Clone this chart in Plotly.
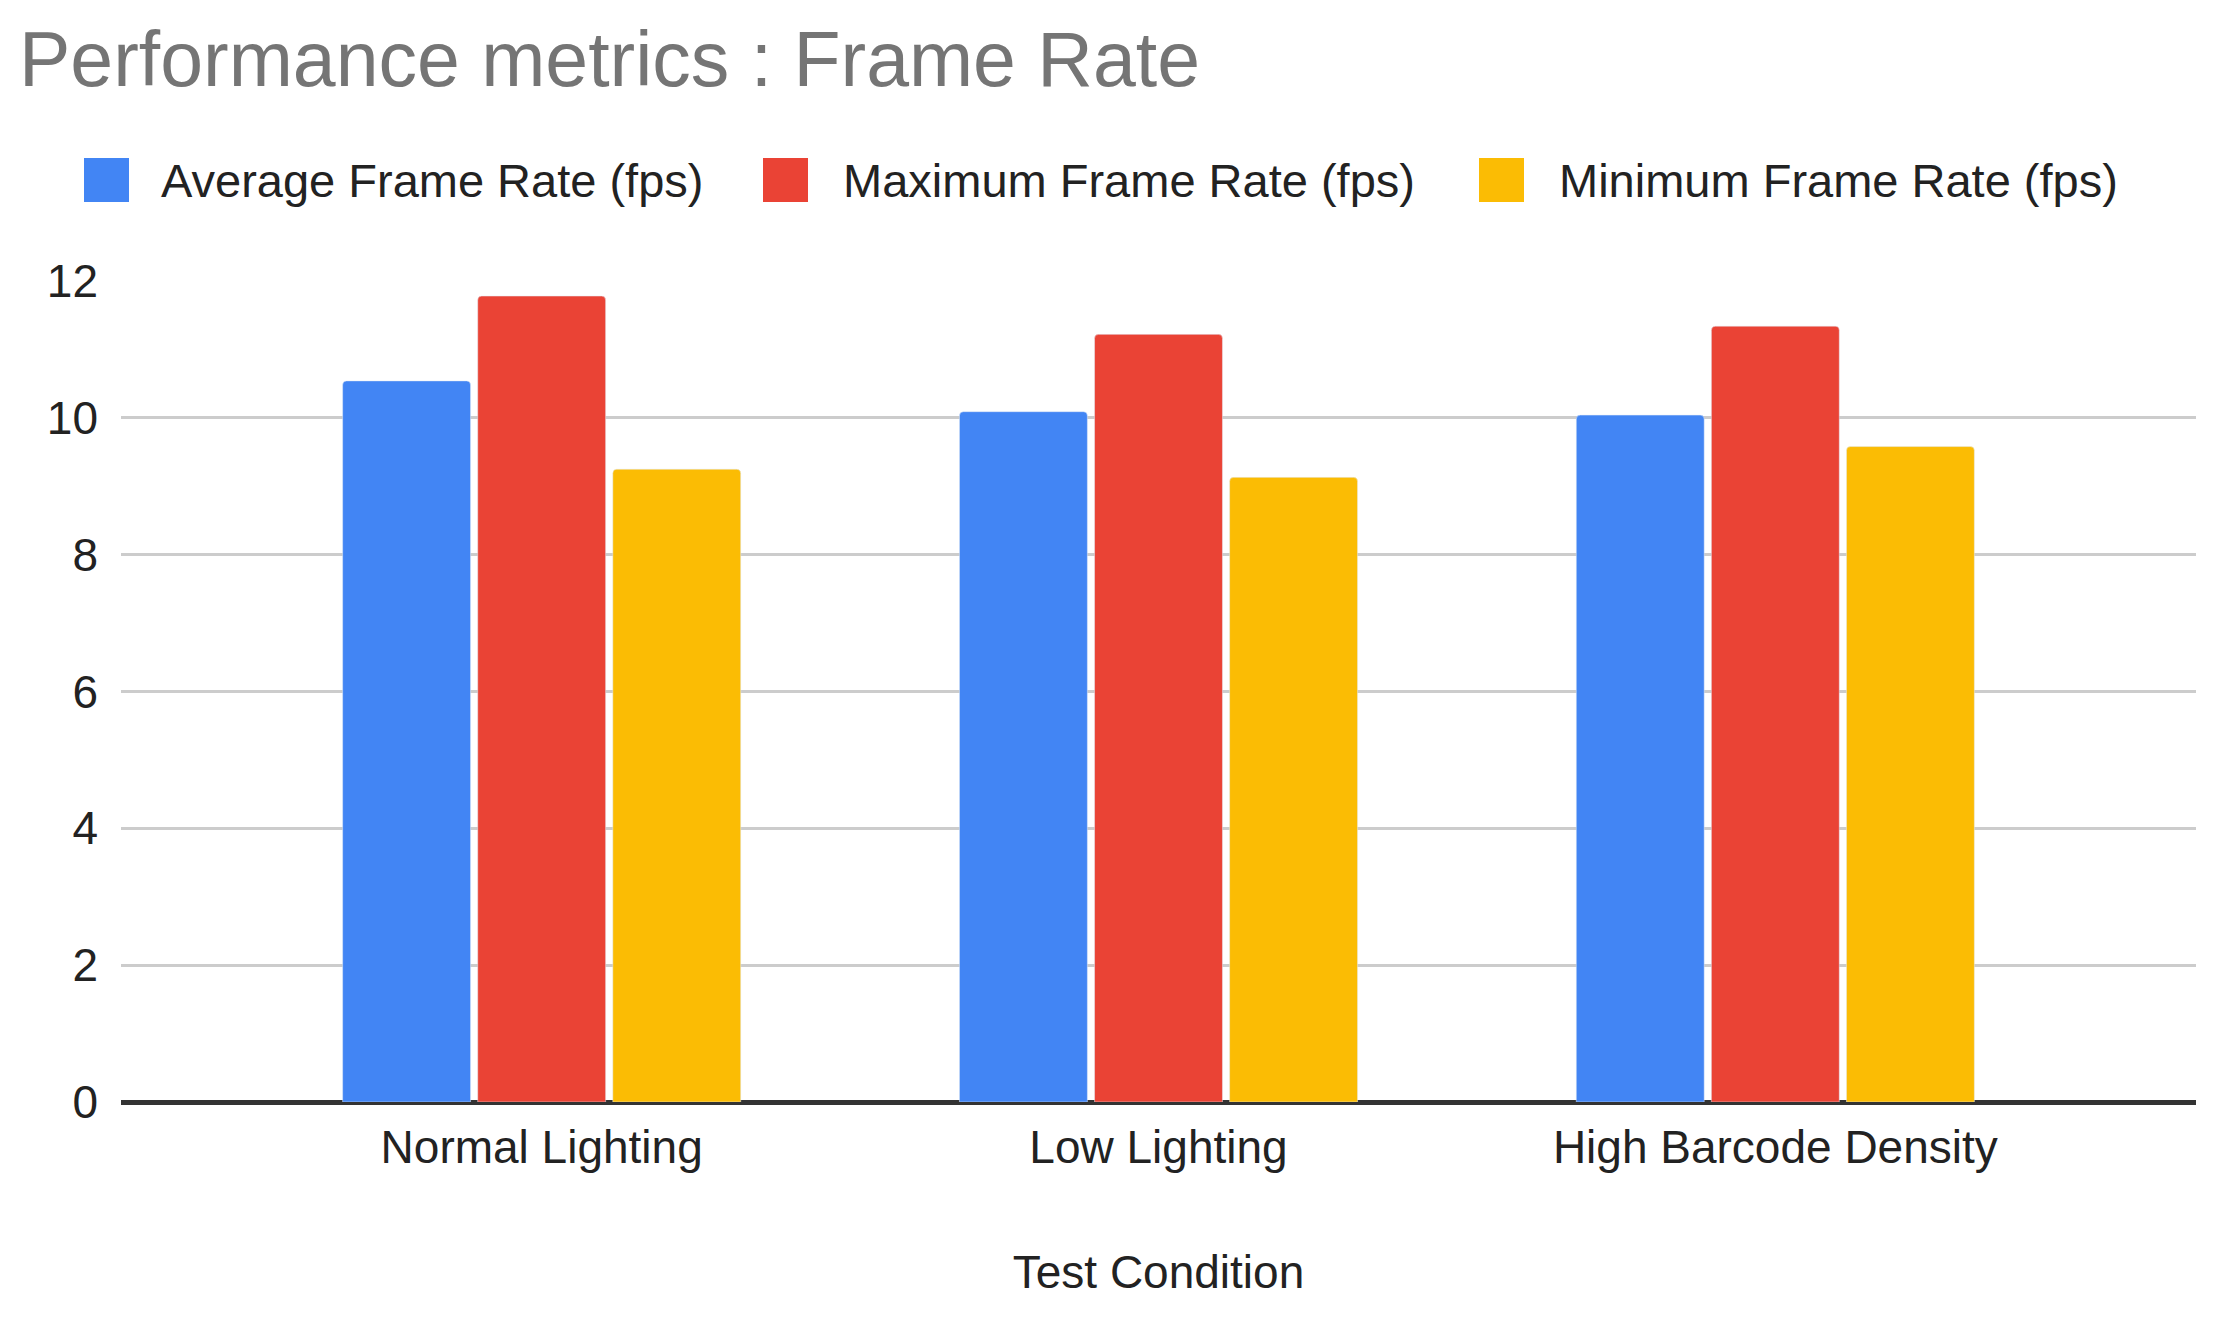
import plotly.graph_objects as go

categories = ["Normal Lighting", "Low Lighting", "High Barcode Density"]
series_names = ["Average Frame Rate (fps)", "Maximum Frame Rate (fps)", "Minimum Frame Rate (fps)"]
avg_fps = [10.54, 10.09, 10.04]
max_fps = [11.78, 11.22, 11.34]
min_fps = [9.25, 9.13, 9.58]
y_ticks = [0, 2, 4, 6, 8, 10, 12]

colors = ["#4285F4", "#EA4335", "#FBBC04"]
W, H = 2227, 1317
OFF = 10  # page body offset compensation
FONT = "Liberation Sans, Arial, sans-serif"

L, R, T, B = 123 - OFF, 2198 - OFF, 283 - OFF, 1104 - OFF

fig = go.Figure()
for name, vals, col in zip(series_names, [avg_fps, max_fps, min_fps], colors):
    fig.add_trace(go.Bar(x=categories, y=vals, name=name, marker_color=col,
                         showlegend=False))

# custom legend (large swatches)
legend_sq_x = [86 - OFF, 765 - OFF, 1481 - OFF]
legend_txt_x = [161 - OFF, 843 - OFF, 1559 - OFF]
leg_y_top, leg_y_bot = 160 - OFF, 204 - OFF
shapes = []
annotations = []
for i, name in enumerate(series_names):
    shapes.append(dict(type="rect", xref="paper", yref="paper",
                       x0=(legend_sq_x[i] - L) / (R - L),
                       x1=(legend_sq_x[i] + 45 - L) / (R - L),
                       y0=(B - leg_y_bot) / (B - T),
                       y1=(B - leg_y_top) / (B - T),
                       fillcolor=colors[i], line=dict(width=0)))
    annotations.append(dict(text=name, xref="paper", yref="paper",
                            x=(legend_txt_x[i] - L) / (R - L),
                            y=(B - (leg_y_top + leg_y_bot) / 2) / (B - T),
                            xanchor="left", yanchor="middle", showarrow=False,
                            font=dict(size=47, color="#222222", family=FONT)))

fig.update_layout(
    width=W, height=H,
    margin=dict(l=L, r=W - R, t=T, b=H - B),
    paper_bgcolor="white", plot_bgcolor="white",
    font=dict(family=FONT, size=46, color="#222222"),
    title=dict(text="Performance metrics : Frame Rate", xref="container", yref="container",
               x=(21 - OFF) / W, xanchor="left", y=1 - (61 - OFF) / H, yanchor="middle",
               font=dict(size=77, color="#757575", family=FONT)),
    barmode="group", bargap=0.343, bargroupgap=0.053, barcornerradius=4,
    shapes=shapes, annotations=annotations,
    xaxis=dict(range=[-0.682, 2.682], showgrid=False, showline=False, ticks="",
               tickfont=dict(size=46, color="#222222"), ticklabelstandoff=14,
               title=dict(text="Test Condition", font=dict(size=46, color="#222222"), standoff=83)),
    yaxis=dict(range=[0, 12], tickvals=y_ticks, showgrid=True, gridcolor="#cccccc", gridwidth=3,
               zeroline=True, zerolinecolor="#333333", zerolinewidth=5, showline=False,
               ticks="", tickfont=dict(size=46, color="#222222"), ticklabelstandoff=22),
)

fig.write_html("out.html")
